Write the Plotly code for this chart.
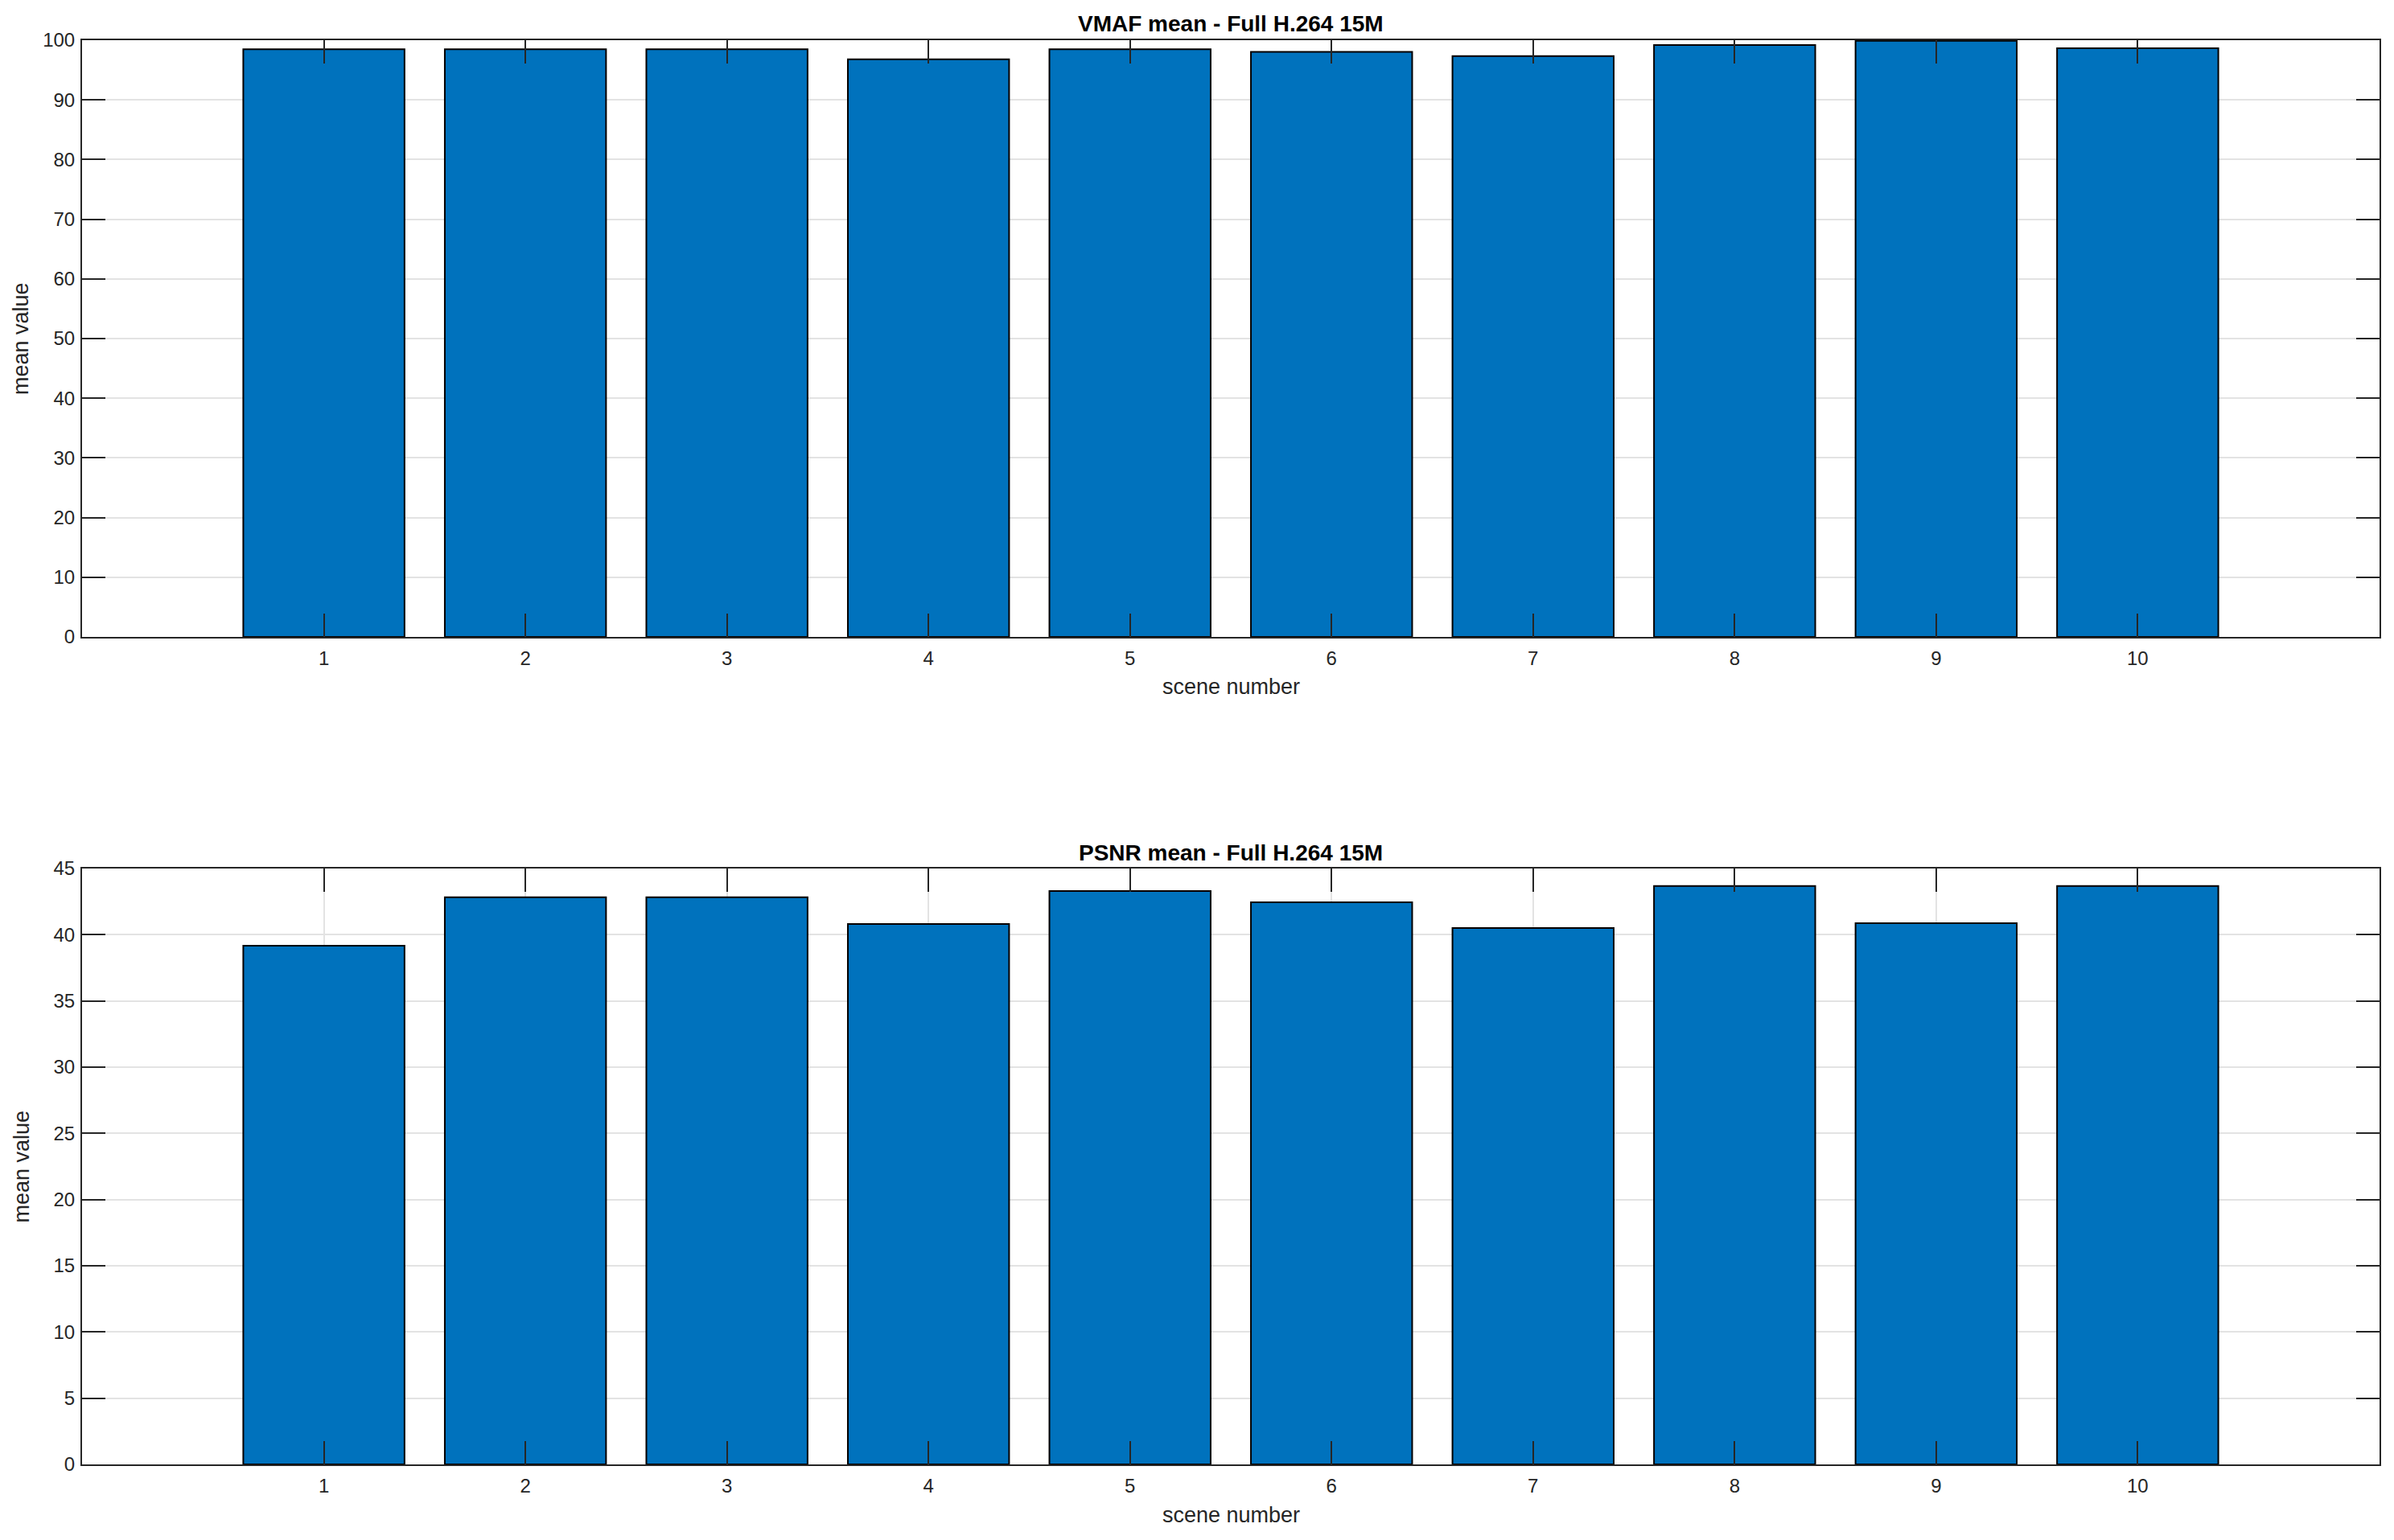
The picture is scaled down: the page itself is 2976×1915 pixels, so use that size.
import plotly.graph_objects as go

scenes = [1, 2, 3, 4, 5, 6, 7, 8, 9, 10]
vmaf_mean = [98.5, 98.5, 98.5, 96.8, 98.5, 98.05, 97.35, 99.2, 99.9, 98.65]
psnr_mean = [39.17, 42.83, 42.83, 40.81, 43.30, 42.45, 40.50, 43.68, 40.87, 43.68]

title_top = "VMAF mean - Full H.264 15M"
title_bottom = "PSNR mean - Full H.264 15M"
xlabel = "scene number"
ylabel = "mean value"

OFF = 8  # page body margin in the browser
W, H = 2976 - OFF, 1915 - OFF
FONT = "Liberation Sans, Arial, Helvetica, sans-serif"
AX = "#262626"
BAR = "#0072BD"

def px_x(p):
    return (p - OFF) / W

def px_y(p):
    return 1 - (p - OFF) / H

left, right = 102, 2958
top1, bot1 = 50, 792
top2, bot2 = 1080, 1821

fig = go.Figure()
fig.add_trace(go.Bar(x=scenes, y=vmaf_mean, width=0.8, marker=dict(color=BAR, line=dict(color="black", width=2)),
                     xaxis="x", yaxis="y", showlegend=False))
fig.add_trace(go.Bar(x=scenes, y=psnr_mean, width=0.8, marker=dict(color=BAR, line=dict(color="black", width=2)),
                     xaxis="x2", yaxis="y2", showlegend=False))

axis_common = dict(
    showline=True, linecolor=AX, linewidth=2, mirror="allticks",
    ticks="inside", ticklen=29, tickwidth=2, tickcolor=AX,
    showgrid=True, gridcolor="#e3e3e3", gridwidth=2,
    zeroline=False, tickfont=dict(family=FONT, size=24, color=AX),
)

fig.update_layout(
    width=W, height=H,
    margin=dict(l=0, r=0, t=0, b=0, autoexpand=False),
    paper_bgcolor="white", plot_bgcolor="white",
    bargap=0.2,
    xaxis=dict(domain=[px_x(left), px_x(right)], range=[-0.2, 11.2], tickmode="array",
               tickvals=scenes, ticktext=[str(s) for s in scenes], anchor="y",
               ticklabelstandoff=4, **axis_common),
    yaxis=dict(domain=[px_y(bot1), px_y(top1)], range=[0, 100], dtick=10, tick0=0, anchor="x",
               ticklabelstandoff=2, **axis_common),
    xaxis2=dict(domain=[px_x(left), px_x(right)], range=[-0.2, 11.2], tickmode="array",
                tickvals=scenes, ticktext=[str(s) for s in scenes], anchor="y2",
                ticklabelstandoff=4, **axis_common),
    yaxis2=dict(domain=[px_y(bot2), px_y(top2)], range=[0, 45], dtick=5, tick0=0, anchor="x2",
                ticklabelstandoff=2, **axis_common),
)

cx = px_x((left + right) / 2)
ann = []
for t, ty, xy, yc in [(title_top, 30, 854, (top1 + bot1) / 2), (title_bottom, 1060, 1884, (top2 + bot2) / 2)]:
    ann.append(dict(text="<b>" + t + "</b>", x=cx, y=px_y(ty), xref="paper", yref="paper",
                    xanchor="center", yanchor="middle", showarrow=False,
                    font=dict(family=FONT, size=28, color="black")))
    ann.append(dict(text=xlabel, x=cx, y=px_y(xy), xref="paper", yref="paper",
                    xanchor="center", yanchor="middle", showarrow=False,
                    font=dict(family=FONT, size=27, color=AX)))
    ann.append(dict(text=ylabel, x=px_x(26), y=px_y(yc), xref="paper", yref="paper",
                    xanchor="center", yanchor="middle", showarrow=False, textangle=-90,
                    font=dict(family=FONT, size=27, color=AX)))
fig.update_layout(annotations=ann)

fig.write_html("out.html")
